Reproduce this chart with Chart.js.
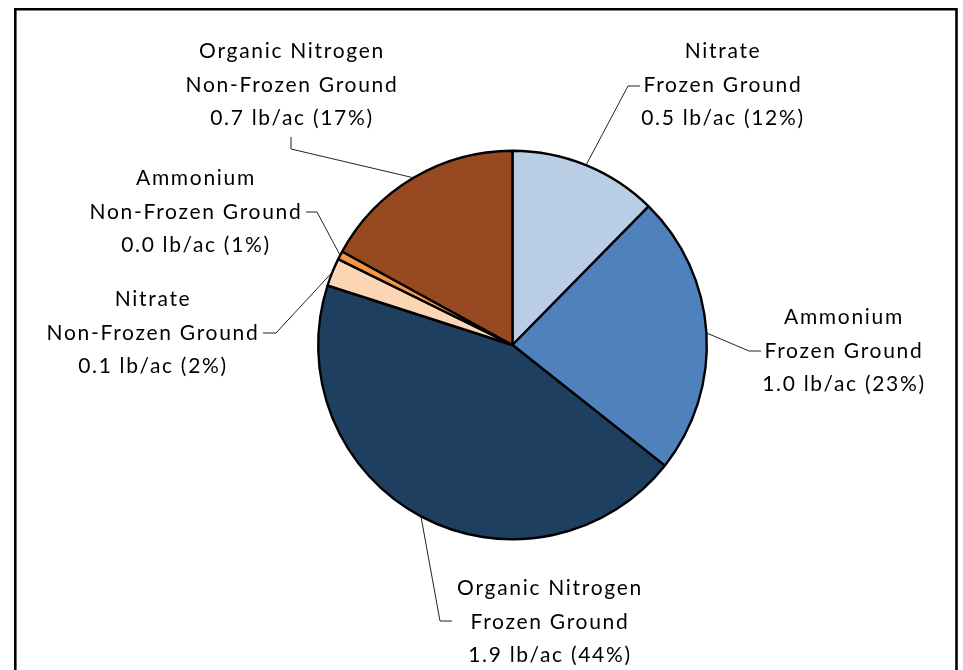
<!DOCTYPE html>
<html>
<head>
<meta charset="utf-8">
<script src="https://cdn.jsdelivr.net/npm/chart.js@4/dist/chart.umd.min.js"></script>
<style>
    body { margin: 0; background: #fff; }
    canvas { display: block; }
</style>
</head>
<body>
<canvas id="graph1" width="963" height="670"></canvas>
<script>
// slices, clockwise from 12 o'clock
const nutrients = ['Nitrate', 'Ammonium', 'Organic Nitrogen', 'Nitrate', 'Ammonium', 'Organic Nitrogen'];
const grounds = ['Frozen Ground', 'Frozen Ground', 'Frozen Ground', 'Non-Frozen Ground', 'Non-Frozen Ground', 'Non-Frozen Ground'];
const loads = [0.53, 1.0, 1.9, 0.10, 0.03, 0.73]; // lb/ac
const colors = ['#B9CDE5', '#4F81BD', '#1F3F60', '#FCD5B5', '#F79646', '#974A22'];

const total = loads.reduce((a, b) => a + b, 0);

// where each label sits (center of middle line) and its leader bends
const spots = [
    {x: 723, y: 85, leader: [[628, 86], [640, 86]]},
    {x: 844, y: 351, leader: [[749, 351], [761, 351]]},
    {x: 550, y: 622, leader: [[440, 621], [452, 621]]},
    {x: 153, y: 333, leader: [[276, 333], [263, 333]]},
    {x: 196, y: 212, leader: [[317, 212], [306, 212]]},
    {x: 292, y: 85, leader: [[291, 149], [291, 137]]}
];

const outsideLabels = {
    id: 'outsideLabels',
    afterDraw(chart) {
        const ctx = chart.ctx;
        const arcs = chart.getDatasetMeta(0).data;
        ctx.save();
        arcs.forEach(function (arc, i) {
            const p = arc.getProps(['x', 'y', 'startAngle', 'endAngle', 'outerRadius'], true);
            const mid = (p.startAngle + p.endAngle) / 2;
            const sx = p.x + Math.cos(mid) * p.outerRadius;
            const sy = p.y + Math.sin(mid) * p.outerRadius;
            ctx.strokeStyle = '#222';
            ctx.lineWidth = 1;
            ctx.beginPath();
            ctx.moveTo(sx, sy);
            spots[i].leader.forEach(function (pt) { ctx.lineTo(pt[0], pt[1]); });
            ctx.stroke();

            const pct = Math.round(loads[i] / total * 100);
            const lines = [nutrients[i], grounds[i], loads[i].toFixed(1) + ' lb/ac (' + pct + '%)'];
            ctx.fillStyle = '#000';
            ctx.font = '21px Lato';
            ctx.letterSpacing = '1.7px';
            ctx.textAlign = 'center';
            ctx.textBaseline = 'middle';
            lines.forEach(function (t, k) {
                ctx.fillText(t, spots[i].x, spots[i].y + (k - 1) * 33.5);
            });
        });
        ctx.restore();
    }
};

const frame = {
    id: 'frame',
    afterDraw(chart) {
        const ctx = chart.ctx;
        ctx.save();
        ctx.strokeStyle = '#000';
        ctx.lineWidth = 2.6;
        ctx.beginPath();
        ctx.moveTo(15.3, 672);
        ctx.lineTo(15.3, 9.3);
        ctx.lineTo(956.5, 9.3);
        ctx.lineTo(956.5, 672);
        ctx.stroke();
        ctx.restore();
    }
};

const data = {
    labels: nutrients.map((n, i) => n + ' ' + grounds[i]),
    datasets: [{
        data: loads,
        backgroundColor: colors,
        borderColor: '#000',
        borderWidth: 2.4
    }]
};

const config = {
    type: 'pie',
    data: data,
    options: {
        responsive: false,
        animation: false,
        layout: {
            padding: {top: 149.5, bottom: 129.5, left: 62, right: 0}
        },
        plugins: {
            legend: {display: false},
            tooltip: {enabled: false}
        }
    },
    plugins: [outsideLabels, frame]
};

const myChart = new Chart(
    document.querySelector('#graph1'),
    config
);
</script>
</body>
</html>
